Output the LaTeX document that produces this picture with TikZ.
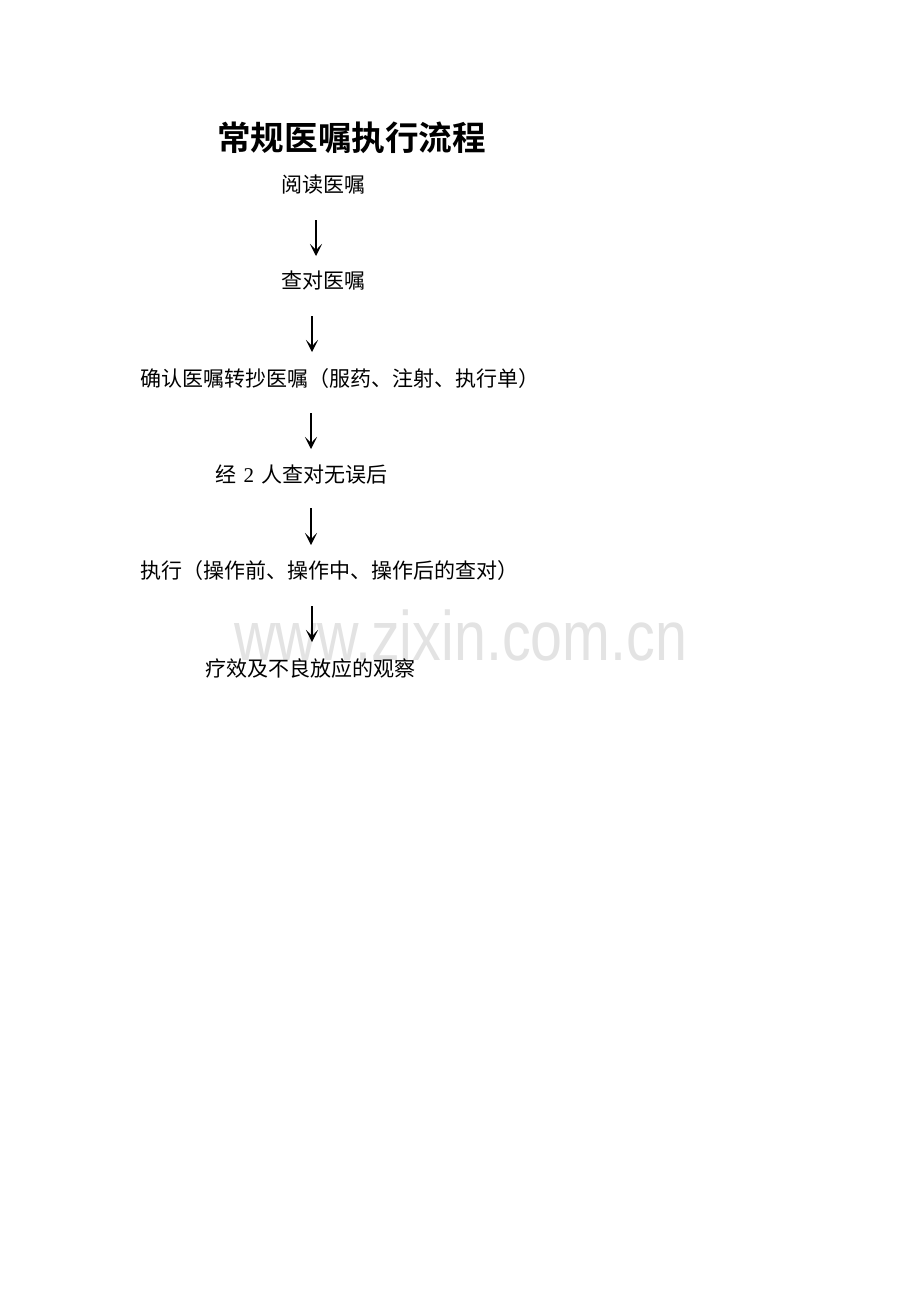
\documentclass[tikz,border=0pt]{standalone}
\usepackage{fontspec}
\setmainfont{Liberation Serif}
\newfontfamily\cjk{Noto Sans CJK SC}
\newfontfamily\cjkbold{Noto Sans CJK SC Bold}
\newfontfamily\wmfont{Liberation Sans}
\usetikzlibrary{arrows.meta}
\tikzset{
  steptext/.style={anchor=base west, inner sep=0pt, font=\fontsize{21}{21}\selectfont\cjk},
  titletext/.style={anchor=base west, inner sep=0pt, font=\fontsize{33.6}{34}\selectfont\cjkbold},
  flowarrow/.style={line width=1.5pt, -{Stealth[length=12pt,width=12pt,inset=6pt]}},
  watermark/.style={anchor=base west, inner sep=0pt, text=black!11, font=\fontsize{70}{70}\selectfont\wmfont, xscale=0.82}
}
\begin{document}
\begin{tikzpicture}[x=1pt,y=-1pt]
\useasboundingbox (0,0) rectangle (920,1302);
\fill[white] (0,0) rectangle (920,1302);
\node[watermark] (wm) at (234,660) {www.zixin.com.cn};
\node[titletext] (title) at (217,150) {常规医嘱执行流程};
\node[steptext] (s1) at (281,192) {阅读医嘱};
\node[steptext] (s2) at (281,288) {查对医嘱};
\node[steptext] (s3) at (140,386) {确认医嘱转抄医嘱（服药、注射、执行单）};
\node[steptext] (s4) at (215,482) {经\hspace{7.5pt}{\rmfamily 2}\hspace{7.5pt}人查对无误后};
\node[steptext] (s5) at (140,578) {执行（操作前、操作中、操作后的查对）};
\node[steptext] (s6) at (205,676) {疗效及不良放应的观察};
\coordinate (a1s) at (316,220); \coordinate (a1e) at (316,256);
\coordinate (a2s) at (312,316); \coordinate (a2e) at (312,352);
\coordinate (a3s) at (311,413); \coordinate (a3e) at (311,449);
\coordinate (a4s) at (311,508); \coordinate (a4e) at (311,545);
\coordinate (a5s) at (312,606); \coordinate (a5e) at (312,642);
\draw[flowarrow] (a1s) -- (a1e);
\draw[flowarrow] (a2s) -- (a2e);
\draw[flowarrow] (a3s) -- (a3e);
\draw[flowarrow] (a4s) -- (a4e);
\draw[flowarrow] (a5s) -- (a5e);
\end{tikzpicture}
\end{document}
